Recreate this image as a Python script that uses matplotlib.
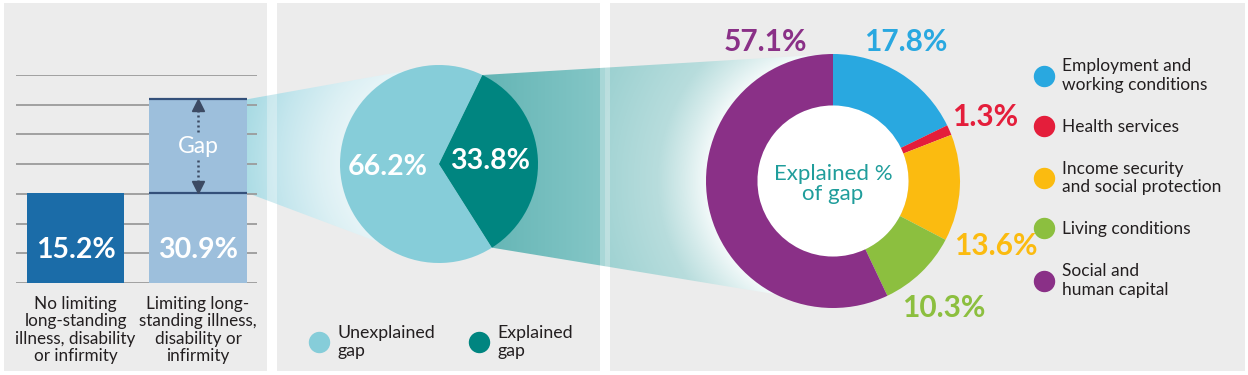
import numpy as np
import matplotlib
matplotlib.use("Agg")
import matplotlib.pyplot as plt
from matplotlib.patches import Rectangle, Polygon, Circle
from matplotlib.lines import Line2D
from matplotlib.colors import to_rgb

plt.rcParams['font.family'] = ['Lato', 'DejaVu Sans']

# --- data ---
groups = ['No limiting\nlong-standing\nillness, disability\nor infirmity',
          'Limiting long-\nstanding illness,\ndisability or\ninfirmity']
rates = [15.2, 30.9]

gap_labels = ['Unexplained\ngap', 'Explained\ngap']
gap_shares = [66.2, 33.8]

factor_labels = ['Employment and\nworking conditions', 'Health services',
                 'Income security\nand social protection', 'Living conditions',
                 'Social and\nhuman capital']
factor_shares = [17.8, 1.3, 13.6, 10.3, 57.1]

# --- styles ---
W, H = 1248, 375
panel_col = '#ececec'
txt_col = '#231f20'
bar_cols = ['#1b6ca8', '#9dbfdc']
gap_cols = ['#86cdd9', '#008580']
factor_cols = ['#29a8e0', '#e41e3b', '#fbbb10', '#8cbf3f', '#8a3087']
# label anchors around the donut, in units of the outer radius
factor_lab_xy = [(0.575, 1.094), (1.20, 0.50), (1.28, -0.51), (0.87, -1.0), (-0.53, 1.094)]


def box(x0, y0, x1, y1):
    return [x0 / W, 1 - y1 / H, (x1 - x0) / W, (y1 - y0) / H]


fig = plt.figure(figsize=(W / 100, H / 100), dpi=100)
fig.patch.set_facecolor('white')

bg = fig.add_axes([0, 0, 1, 1])
bg.set_xlim(0, W)
bg.set_ylim(H, 0)
bg.axis('off')
for x0, x1 in [(4, 267), (277, 600), (610, 1245)]:
    bg.add_patch(Rectangle((x0, 3), x1 - x0, 368, fc=panel_col, ec='none', zorder=0))

# --- panel 1: bars ---
ax1 = fig.add_axes(box(16, 75, 257, 283))
ax1.patch.set_visible(False)
bars = ax1.bar([0, 1], rates, width=0.795, color=bar_cols, zorder=2)
ax1.set_xlim(-0.486, 1.482)
ax1.set_ylim(0, 35)
ax1.set_yticks(np.arange(0, 36, 5))
ax1.yaxis.grid(True, color='#9b9b9b', lw=1.3)
ax1.set_axisbelow(True)
for s in ax1.spines.values():
    s.set_visible(False)
ax1.tick_params(length=0, labelleft=False)
ax1.set_xticks([0, 1], groups, fontsize=12.3, color=txt_col, linespacing=1.12)
ax1.tick_params(axis='x', pad=9)
for lab in ax1.get_xticklabels():
    lab.set_verticalalignment('top')

b2 = bars[1]
ax1.hlines([rates[0], rates[1]], b2.get_x(), b2.get_x() + b2.get_width(),
           color='#34507a', lw=1.6, zorder=3)
ax1.plot([1, 1], [rates[1] - 1.8, rates[0] + 1.8], color='#3c4a63', lw=1.8,
         ls=(0, (0.8, 1.2)), zorder=3)
ax1.plot(1, rates[1] - 1.0, marker='^', ms=8.5, color='#3c4a63', zorder=3)
ax1.plot(1, rates[0] + 0.9, marker='v', ms=8.5, color='#3c4a63', zorder=3)
ax1.text(1, (rates[0] + rates[1]) / 2, 'Gap', color='white', fontsize=16.5,
         ha='center', va='center', zorder=4,
         bbox=dict(fc=bar_cols[1], ec='none', pad=1))
for i, v in enumerate(rates):
    ax1.text(i, 5.6, f'{v:.1f}%', color='white', fontsize=20.5, fontweight='bold',
             ha='center', va='center', zorder=4)

# --- panel 2: pie ---
ax2 = fig.add_axes(box(340, 65, 538, 263))
ax2.patch.set_visible(False)
wedges, _, autotexts = ax2.pie(gap_shares, colors=gap_cols, startangle=64,
                               autopct='%.1f%%', pctdistance=0.52,
                               textprops=dict(color='white', fontsize=20.5, fontweight='bold'))
ax2.set_xlim(-1, 1)
ax2.set_ylim(-1, 1)
handles = [Line2D([], [], ls='none', marker='o', ms=14.4, color=c) for c in gap_cols]
fig.legend(handles, gap_labels, loc='center left',
           bbox_to_anchor=(311 / W, 1 - 342 / H), ncol=2, frameon=False,
           fontsize=12.8, labelcolor=txt_col, handlelength=0.95, handletextpad=0.55,
           columnspacing=2.0, borderpad=0, borderaxespad=0)

# --- panel 3: donut ---
ax3 = fig.add_axes(box(706, 54, 960, 308))
ax3.patch.set_visible(False)
ring = 0.405
ax3.add_patch(Circle((0, 0), 1 - ring, fc='white', ec='none', zorder=0))
dw, _ = ax3.pie(factor_shares, colors=factor_cols, startangle=90, counterclock=False,
                wedgeprops=dict(width=ring, zorder=1))
ax3.set_xlim(-1, 1)
ax3.set_ylim(-1, 1)
for v, c, (lx, ly) in zip(factor_shares, factor_cols, factor_lab_xy):
    ax3.text(lx, ly, f'{v:.1f}%', color=c, fontsize=21.5, fontweight='bold',
             ha='center', va='center')
ax3.text(0, -0.02, 'Explained %\nof gap', color='#1f9d9b', fontsize=16,
         ha='center', va='center', linespacing=1.0)
handles = [Line2D([], [], ls='none', marker='o', ms=14.4, color=c) for c in factor_cols]
fig.legend(handles, factor_labels, loc='upper left',
           bbox_to_anchor=(1036 / W, 1 - 58 / H), frameon=False,
           fontsize=12.5, labelcolor=txt_col, handlelength=0.92, handletextpad=0.58,
           labelspacing=1.5, borderpad=0, borderaxespad=0)


# --- funnels (drawn on background, in pixel coords) ---
def to_px(ax, x, y):
    d = ax.transData.transform((x, y))
    return bg.transData.inverted().transform(d)


def funnel(pts, colour_fn):
    pts = np.array(pts)
    x0, y0 = np.floor(pts.min(axis=0))
    x1, y1 = np.ceil(pts.max(axis=0))
    xs = np.arange(x0, x1) + 0.5
    ys = np.arange(y0, y1) + 0.5
    X, Y = np.meshgrid(xs, ys)
    img = colour_fn(X, Y)
    poly = Polygon(pts, closed=True, fc='none', ec='none', transform=bg.transData)
    bg.add_patch(poly)
    im = bg.imshow(img, extent=(x0, x1, y1, y0), origin='upper', zorder=1,
                   interpolation='bilinear', aspect='auto')
    im.set_clip_path(poly)


def radial(cx, cy, dstops, cstops):
    cols = np.array([to_rgb(c) for c in cstops])

    def fn(X, Y):
        d = np.hypot(X - cx, Y - cy)
        return np.dstack([np.interp(d, dstops, cols[:, k]) for k in range(3)])
    return fn


fig.canvas.draw()
pie_c = to_px(ax2, 0, 0)
donut_c = to_px(ax3, 0, 0)

# left funnel: gap part of bar 2 -> whole pie
xr = b2.get_x() + b2.get_width()
lpts = [to_px(ax1, xr, rates[1]),
        to_px(ax2, np.cos(np.radians(110)), np.sin(np.radians(110))),
        pie_c,
        to_px(ax2, np.cos(np.radians(-128)), np.sin(np.radians(-128))),
        to_px(ax1, xr, rates[0])]
funnel(lpts, radial(pie_c[0], pie_c[1], [99, 120, 160, 205],
                    ['#e6f4f7', '#dcf0f4', '#c4e6ed', '#a4d9e2']))

# right funnel: explained wedge -> donut
we = wedges[1]
t1, t2 = np.radians(we.theta1), np.radians(we.theta2)
rpts = [to_px(ax2, np.cos(t2), np.sin(t2)),
        to_px(ax3, 0, 1.0),
        to_px(ax3, -0.10, -0.95),
        to_px(ax2, np.cos(t1), np.sin(t1)),
        pie_c]
rad3 = radial(donut_c[0], donut_c[1], [127, 150, 175, 260],
              ['#f2f9f9', '#d5ebeb', '#b8dddd', '#98cfcf'])
c_a, c_b = np.array(to_rgb('#66b6b6')), np.array(to_rgb('#84c6c6'))


def right_fn(X, Y):
    out = rad3(X, Y)
    t = np.clip((X - 490) / 110, 0, 1)[..., None]
    lin = c_a + (c_b - c_a) * t
    mask = (X < 605)[..., None]
    return np.where(mask, lin, out)


funnel(rpts, right_fn)

# lighter strips where funnels cross the white gutters
for x0, x1 in [(267, 277), (600, 610)]:
    bg.add_patch(Rectangle((x0, 0), x1 - x0, H, fc='white', ec='none', alpha=0.3, zorder=2))

fig.savefig('out.png', dpi=100)
